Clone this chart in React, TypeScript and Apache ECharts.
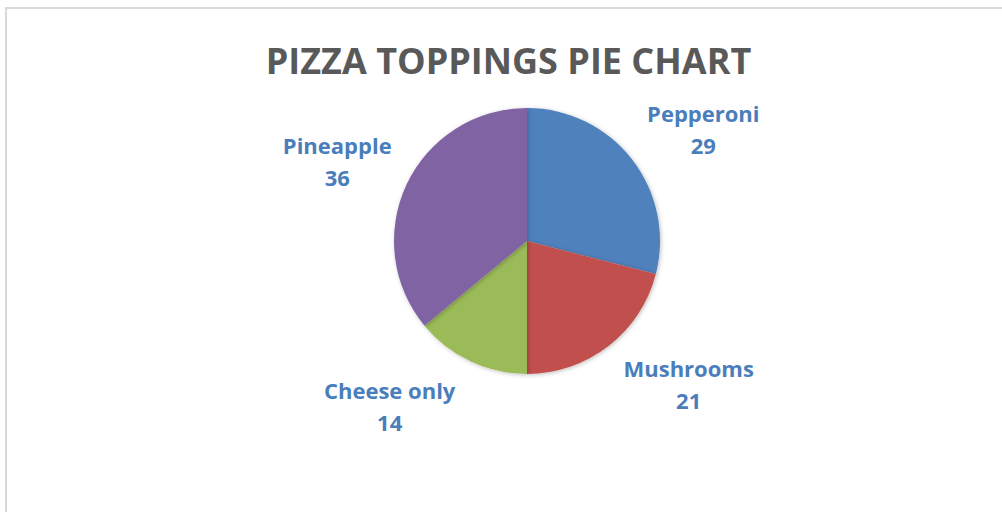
import React, { useEffect, useRef } from "react";
import * as echarts from "echarts";

const TITLE = "PIZZA TOPPINGS PIE CHART";
const categories = ["Pepperoni", "Mushrooms", "Cheese only", "Pineapple"];
const values = [29, 21, 14, 36];
const sliceColors = ["#4F81BD", "#C0504D", "#9BBB59", "#8064A2"];

const CX = 527;
const CY = 241;
const R = 133;

export default function App() {
  const ref = useRef<HTMLDivElement>(null);

  useEffect(() => {
    if (!ref.current) return;
    const chart = echarts.init(ref.current, undefined, { renderer: "svg" });
    const total = values.reduce((a, b) => a + b, 0);
    const mids: number[] = [];
    let acc = 0;
    values.forEach((v) => {
      mids.push(((acc + v / 2) / total) * Math.PI * 2);
      acc += v;
    });

    chart.setOption({
      animation: false,
      backgroundColor: "#ffffff",
      graphic: [
        {
          type: "rect",
          shape: { x: 6, y: 8, width: 1100, height: 600 },
          style: { fill: "none", stroke: "#d9d9d9", lineWidth: 2 },
          silent: true,
        },
        {
          type: "text",
          x: 508.5,
          y: 60,
          style: {
            text: TITLE,
            fill: "#595959",
            font: "bold 36px 'Open Sans'",
            align: "center",
            verticalAlign: "middle",
          },
        },
      ],
      series: [
        {
          type: "pie",
          center: [CX, CY],
          radius: [0, R],
          startAngle: 90,
          clockwise: true,
          data: categories.map((name, i) => ({
            name,
            value: values[i],
            itemStyle: { color: sliceColors[i] },
          })),
          itemStyle: {
            shadowBlur: 4,
            shadowColor: "rgba(0,0,0,0.25)",
            shadowOffsetX: 1,
            shadowOffsetY: 1,
          },
          emphasis: { disabled: true },
          label: {
            show: true,
            position: "outside",
            formatter: "{b}\n{c}",
            fontFamily: "Open Sans",
            fontWeight: "bold",
            fontSize: 22,
            lineHeight: 32,
            color: "#4A7EBB",
            align: "center",
          },
          labelLine: { show: false },
          labelLayout: (p: any) => {
            const t = mids[p.dataIndex];
            const s = Math.sin(t);
            const c = Math.cos(t);
            const px = CX + R * s;
            const py = CY - R * c;
            const hw = p.labelRect.width / 2;
            const hh = 24.5;
            const gx = 15;
            const gy = -7 + 33.4 * c * c;
            return {
              x: px + Math.sign(s) * (gx + hw),
              y: c > 0 ? py - gy - hh : py + gy + hh,
              align: "center",
              verticalAlign: "middle",
            };
          },
        },
      ],
    });
    return () => chart.dispose();
  }, []);

  return (
    <div
      ref={ref}
      style={{ position: "absolute", left: 0, top: 0, width: 1002, height: 512 }}
    />
  );
}
